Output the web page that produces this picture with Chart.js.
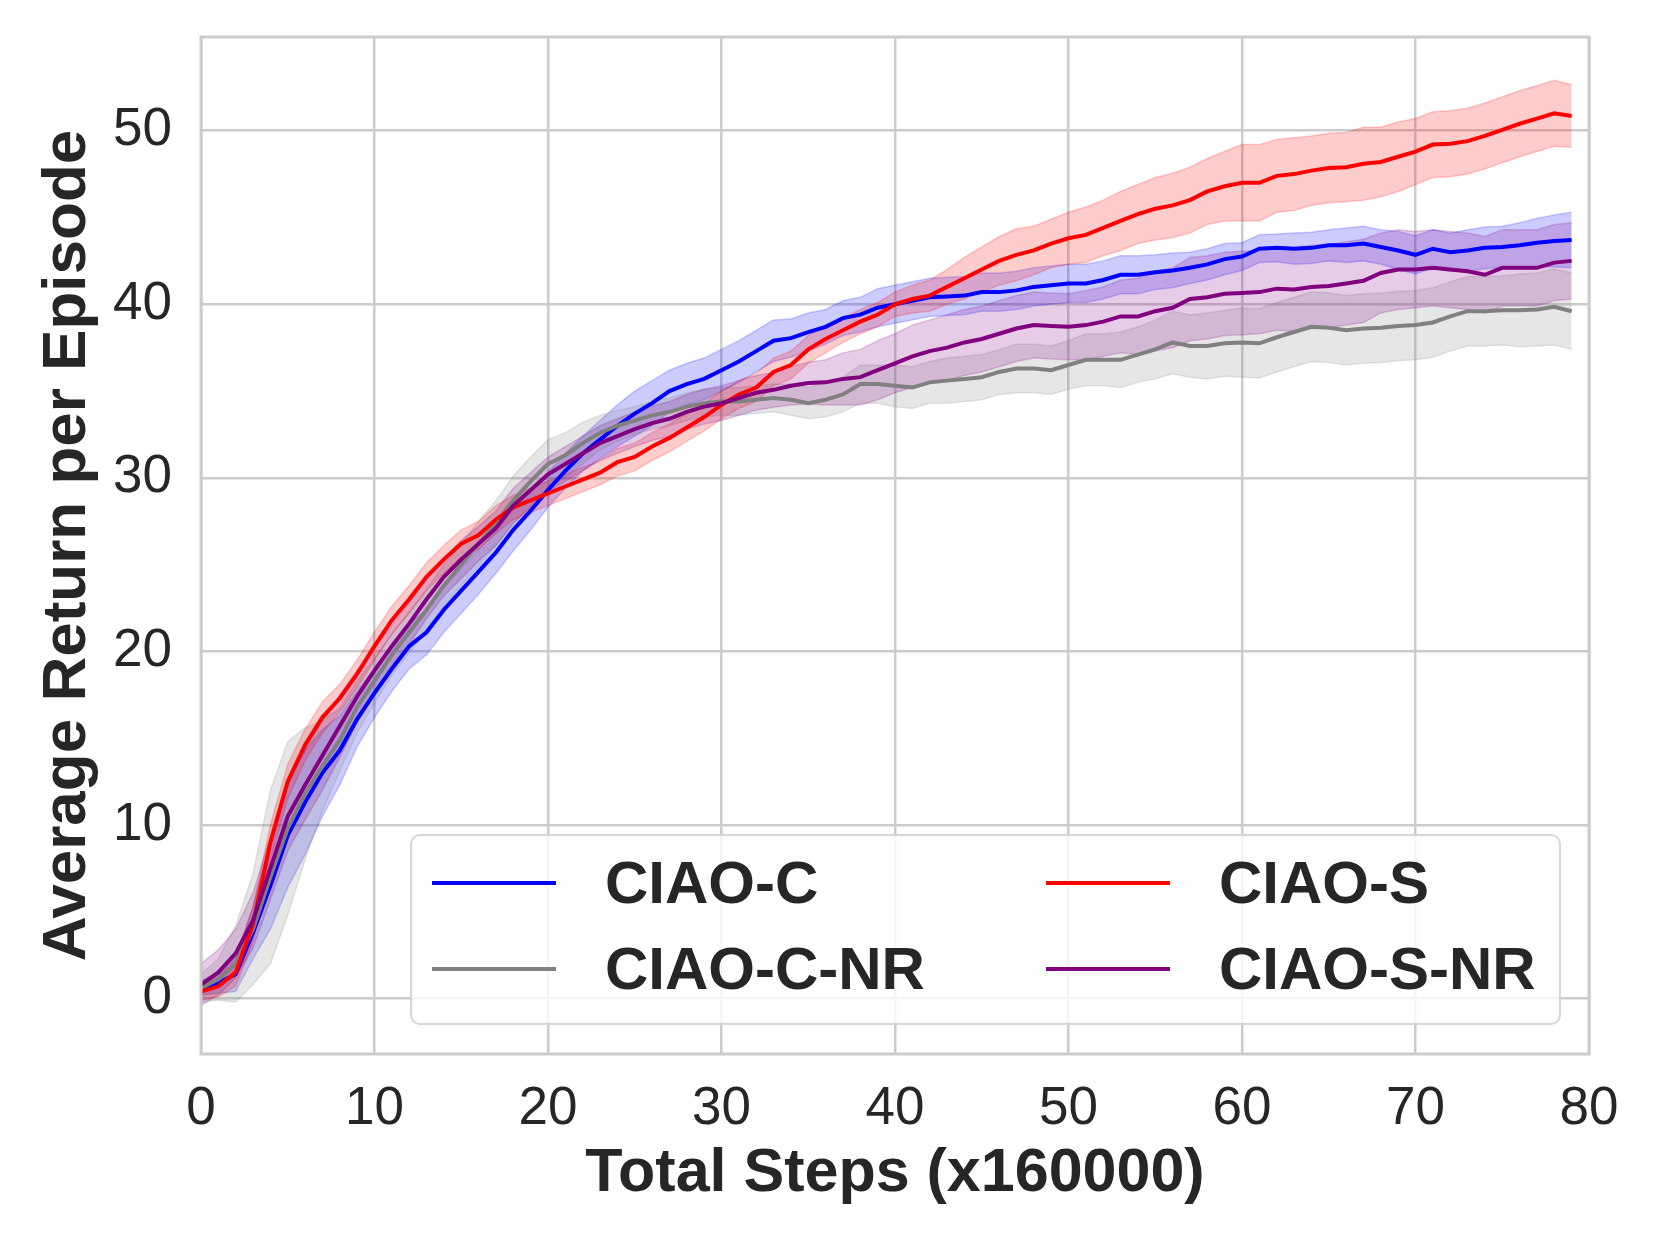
<!DOCTYPE html>
<html>
<head>
<meta charset="utf-8">
<script src="https://cdn.jsdelivr.net/npm/chart.js@4.4.1/dist/chart.umd.min.js"></script>
<style>
  html, body { margin: 0; padding: 0; background: #fff; }
  #wrap { position: relative; width: 1661px; height: 1246px; }
  #legend {
    position: absolute; left: 410px; top: 834px; width: 1147px; height: 187px;
    background: rgba(255,255,255,0.8); border: 2px solid rgba(204,204,204,0.8);
    border-radius: 10px; font-family: "Liberation Sans", Arial, sans-serif;
  }
  .item { position: absolute; height: 70px; }
  .item .line { position: absolute; left: 0; top: 33px; width: 124px; height: 4px; }
  .item .txt { position: absolute; left: 173px; top: 0; line-height: 70px; font-size: 60px;
    font-weight: bold; color: #262626; white-space: nowrap; }
</style>
</head>
<body>
<div id="wrap">
  <canvas id="chart" width="1661" height="1246"></canvas>
  <div id="legend"></div>
</div>
<script>
// x values (steps, x160000)
const steps = [0,1,2,3,4,5,6,7,8,9,10,11,12,13,14,15,16,17,18,19,
  20,21,22,23,24,25,26,27,28,29,30,31,32,33,34,35,36,37,38,39,
  40,41,42,43,44,45,46,47,48,49,50,51,52,53,54,55,56,57,58,59,
  60,61,62,63,64,65,66,67,68,69,70,71,72,73,74,75,76,77,78,79];

const xTicks = [0,10,20,30,40,50,60,70,80];
const yTicks = [0,10,20,30,40,50];

// mean return per episode
const ciaoC = [0.6,0.9,1.4,3.8,6.5,9.4,11.3,13.0,14.3,16.1,
  17.6,19.0,20.3,21.1,22.4,23.5,24.6,25.7,27.0,28.1,
  29.3,30.4,31.4,32.2,33.0,33.7,34.3,35.0,35.4,35.7,
  36.2,36.7,37.3,37.9,38.05,38.4,38.7,39.2,39.4,39.8,
  40.0,40.2,40.4,40.45,40.5,40.7,40.7,40.8,41.0,41.1,
  41.2,41.2,41.4,41.7,41.7,41.85,41.95,42.1,42.3,42.6,
  42.75,43.2,43.25,43.2,43.25,43.4,43.4,43.5,43.3,43.1,
  42.85,43.2,43.0,43.1,43.25,43.3,43.4,43.55,43.65,43.7];
const ciaoCNR = [0.6,1.1,2.0,4.0,7.0,9.8,11.8,13.4,14.9,16.8,
  18.3,19.8,21.1,22.4,23.8,25.0,26.2,27.4,28.7,29.8,
  30.8,31.3,32.0,32.6,33.0,33.3,33.6,33.8,34.1,34.3,
  34.4,34.4,34.5,34.6,34.5,34.3,34.5,34.8,35.4,35.4,
  35.3,35.2,35.5,35.6,35.7,35.8,36.1,36.3,36.3,36.2,
  36.5,36.8,36.8,36.8,37.1,37.4,37.8,37.6,37.6,37.75,
  37.8,37.75,38.1,38.4,38.7,38.65,38.5,38.6,38.65,38.75,
  38.8,38.95,39.3,39.6,39.6,39.65,39.65,39.7,39.85,39.6];
const ciaoS = [0.4,0.7,1.5,4.3,9.0,12.5,14.6,16.2,17.3,18.7,
  20.3,21.8,23.0,24.3,25.3,26.2,26.7,27.6,28.3,28.7,
  29.1,29.5,29.9,30.3,30.9,31.2,31.8,32.3,32.9,33.5,
  34.2,34.8,35.2,36.1,36.5,37.4,38.0,38.5,39.0,39.4,
  40.0,40.3,40.5,41.0,41.5,42.0,42.5,42.85,43.1,43.5,
  43.8,44.0,44.4,44.8,45.2,45.5,45.7,46.0,46.5,46.8,
  47.0,47.0,47.4,47.5,47.7,47.85,47.9,48.1,48.2,48.5,
  48.8,49.2,49.25,49.4,49.7,50.05,50.4,50.7,51.0,50.85];
const ciaoSNR = [0.8,1.5,2.6,4.5,7.5,10.5,12.3,14.0,15.7,17.4,
  18.9,20.3,21.6,23.0,24.3,25.3,26.2,27.1,28.4,29.3,
  30.2,30.8,31.4,32.0,32.4,32.8,33.15,33.4,33.8,34.1,
  34.3,34.6,34.9,35.07,35.3,35.46,35.5,35.7,35.8,36.2,
  36.6,37.0,37.3,37.5,37.8,38.0,38.3,38.6,38.8,38.75,
  38.7,38.8,39.0,39.3,39.3,39.6,39.8,40.3,40.4,40.6,
  40.65,40.7,40.9,40.85,41.0,41.05,41.2,41.35,41.8,42.0,
  42.0,42.1,42.0,41.9,41.7,42.1,42.1,42.1,42.4,42.5];

// spread (half width of shaded band)
const ciaoCSd = [0.4,0.6,1.0,1.5,2.5,3.0,3.0,2.5,2.0,1.6,
  1.4,1.3,1.3,1.3,1.3,1.3,1.3,1.2,1.2,1.1,
  1.0,1.0,1.0,1.1,1.2,1.3,1.3,1.2,1.2,1.2,
  1.2,1.2,1.2,1.2,1.1,1.1,1.0,1.0,1.0,1.1,
  1.1,1.1,1.1,1.1,1.1,1.1,1.1,1.1,1.1,1.1,
  1.1,1.1,1.1,1.1,1.1,1.0,1.0,0.9,0.9,0.9,
  0.8,0.8,0.8,0.9,0.9,0.9,1.0,1.0,1.0,1.1,
  1.1,1.1,1.1,1.2,1.2,1.2,1.3,1.4,1.5,1.6];
const ciaoCNRSd = [0.8,1.2,2.2,3.2,5.0,5.0,3.8,2.6,1.8,1.5,
  1.3,1.2,1.2,1.2,1.2,1.2,1.3,1.3,1.4,1.4,
  1.4,1.3,1.2,1.0,0.9,0.8,0.8,0.8,0.8,0.8,
  0.8,0.8,0.8,0.8,0.9,0.9,1.0,1.0,1.1,1.1,
  1.2,1.2,1.2,1.3,1.3,1.3,1.3,1.4,1.4,1.4,
  1.4,1.5,1.5,1.6,1.6,1.7,1.8,1.8,1.9,1.9,
  2.0,2.0,2.0,2.0,2.0,2.0,2.0,2.0,2.0,2.0,
  2.0,2.0,2.0,2.0,2.0,2.0,2.1,2.1,2.2,2.2];
const ciaoSSd = [0.5,0.6,0.8,1.0,1.0,1.0,0.9,0.9,0.8,0.8,
  0.8,0.8,0.8,0.8,0.8,0.8,0.8,0.8,0.7,0.7,
  0.7,0.7,0.7,0.7,0.8,0.8,0.8,0.8,0.8,0.8,
  0.8,0.8,0.8,0.8,0.8,0.8,0.8,0.7,0.7,0.7,
  0.7,0.8,0.9,1.0,1.2,1.3,1.4,1.5,1.4,1.4,
  1.5,1.6,1.6,1.7,1.7,1.8,1.85,1.9,1.9,2.0,
  2.2,2.2,2.1,2.1,2.0,2.0,2.0,2.1,2.0,2.0,
  1.9,1.9,1.9,1.9,1.9,1.9,1.9,1.9,1.9,1.8];
const ciaoSNRSd = [1.2,1.3,1.4,1.6,1.8,2.0,2.0,2.0,1.8,1.5,
  1.3,1.2,1.2,1.1,1.1,1.1,1.0,1.0,1.0,1.0,
  1.0,1.0,1.0,1.0,1.0,1.0,1.0,1.0,1.0,1.0,
  1.0,1.0,1.0,1.0,1.1,1.2,1.3,1.5,1.6,1.7,
  1.7,1.8,1.8,1.9,1.9,1.9,1.9,1.9,1.9,1.9,
  1.9,2.0,2.0,2.1,2.2,2.3,2.3,2.4,2.4,2.4,
  2.4,2.4,2.4,2.4,2.4,2.4,2.4,2.4,2.3,2.3,
  2.2,2.2,2.2,2.2,2.2,2.2,2.2,2.2,2.2,2.2];

const series = [
  { name: 'CIAO-C', mean: ciaoC, sd: ciaoCSd, rgb: '0,0,255' },
  { name: 'CIAO-C-NR', mean: ciaoCNR, sd: ciaoCNRSd, rgb: '128,128,128' },
  { name: 'CIAO-S', mean: ciaoS, sd: ciaoSSd, rgb: '255,0,0' },
  { name: 'CIAO-S-NR', mean: ciaoSNR, sd: ciaoSNRSd, rgb: '128,0,128' },
];

const FONT = '"Liberation Sans", Arial, sans-serif';
const TXT = '#262626';
const GRID = '#cccccc';

function pts(arr){ return arr.map((v, i) => ({ x: steps[i], y: v })); }

// bands first (under every line), lines on top; later series drawn above earlier ones
const datasets = [];
const n = series.length;
series.forEach((s, k) => {
  const upper = s.mean.map((v, i) => v + s.sd[i]);
  const lower = s.mean.map((v, i) => v - s.sd[i]);
  datasets.push({
    data: pts(upper), borderColor: `rgba(${s.rgb},0.2)`, borderWidth: 1.5,
    fill: false, pointRadius: 0, order: 2 * n - k
  });
  datasets.push({
    data: pts(lower), borderColor: `rgba(${s.rgb},0.2)`, borderWidth: 1.5,
    backgroundColor: `rgba(${s.rgb},0.2)`, fill: '-1', pointRadius: 0, order: 2 * n - k
  });
});
series.forEach((s, k) => {
  datasets.push({
    label: s.name, data: pts(s.mean), borderColor: `rgb(${s.rgb})`, borderWidth: 4,
    fill: false, pointRadius: 0, order: n - k
  });
});

const frame = {
  id: 'frame',
  afterDatasetsDraw(chart){
    const { ctx, chartArea: a } = chart;
    ctx.save();
    ctx.strokeStyle = GRID;
    ctx.lineWidth = 3;
    ctx.strokeRect(a.left, a.top, a.right - a.left, a.bottom - a.top);
    ctx.restore();
  }
};

// keep chart area where the layout padding puts it
function noPad(s){ s.paddingTop = 0; s.paddingBottom = 0; s.paddingLeft = 0; s.paddingRight = 0; }

new Chart(document.getElementById('chart').getContext('2d'), {
  type: 'line',
  data: { datasets },
  options: {
    responsive: false,
    animation: false,
    devicePixelRatio: 1,
    layout: { padding: { left: 0, top: 37, right: 72, bottom: 0 } },
    elements: { line: { tension: 0 }, point: { radius: 0 } },
    plugins: { legend: { display: false }, tooltip: { enabled: false }, filler: { propagate: false } },
    scales: {
      x: {
        type: 'linear', min: 0, max: 80,
        afterFit: s => { s.height = 192; noPad(s); },
        afterBuildTicks: s => { s.ticks = xTicks.map(v => ({ value: v })); },
        grid: { color: GRID, lineWidth: 2.5, drawTicks: false },
        border: { display: false },
        ticks: { padding: 24, color: TXT, font: { family: FONT, size: 53 }, maxRotation: 0, autoSkip: false },
        title: { display: true, text: 'Total Steps (x160000)', color: TXT,
          font: { family: FONT, size: 61, weight: 'bold' }, padding: { top: 0, bottom: 35 } }
      },
      y: {
        type: 'linear', min: -3.2, max: 55.4,
        afterFit: s => { s.width = 201; noPad(s); },
        afterBuildTicks: s => { s.ticks = yTicks.map(v => ({ value: v })); },
        grid: { color: GRID, lineWidth: 2.5, drawTicks: false },
        border: { display: false },
        ticks: { padding: 29, color: TXT, font: { family: FONT, size: 53 }, autoSkip: false },
        title: { display: true, text: 'Average Return per Episode', color: TXT,
          font: { family: FONT, size: 62, weight: 'bold' }, padding: { top: 31, bottom: 0 } }
      }
    }
  },
  plugins: [frame]
});

// legend: two columns, column-major like the original
const legend = document.getElementById('legend');
const cols = [[series[0], series[1]], [series[2], series[3]]];
const colX = [20, 634];
const rowY = [12, 98];
cols.forEach((col, c) => col.forEach((s, r) => {
  const it = document.createElement('div');
  it.className = 'item';
  it.style.left = colX[c] + 'px';
  it.style.top = rowY[r] + 'px';
  it.innerHTML = `<div class="line" style="background:rgb(${s.rgb})"></div><div class="txt">${s.name}</div>`;
  legend.appendChild(it);
}));
</script>
</body>
</html>
